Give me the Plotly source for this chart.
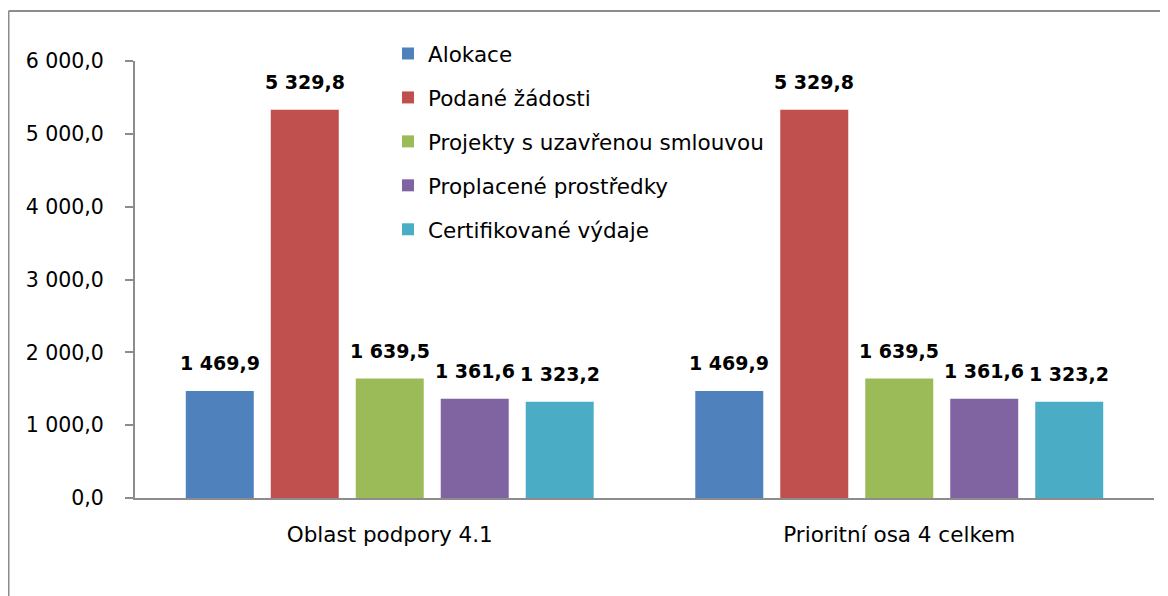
import plotly.graph_objects as go

categories = ["Oblast podpory 4.1", "Prioritní osa 4 celkem"]
series_names = ["Alokace", "Podané žádosti", "Projekty s uzavřenou smlouvou",
                "Proplacené prostředky", "Certifikované výdaje"]
alokace = [1469.9, 1469.9]
podane = [5329.8, 5329.8]
projekty = [1639.5, 1639.5]
proplacene = [1361.6, 1361.6]
certifikovane = [1323.2, 1323.2]
series_values = [alokace, podane, projekty, proplacene, certifikovane]
colors = ["#4F81BD", "#C0504D", "#9BBB59", "#8064A2", "#4BACC6"]
y_ticks = [0, 1000, 2000, 3000, 4000, 5000, 6000]

FONT = "DejaVu Sans"
# page body has an 8px margin, so the figure is 8px smaller than the window
W, H = 1160, 588
ML, MR, MT, MB = 127, 14, 53, 98
PW = W - ML - MR
PH = H - MT - MB


def fmt(v):
    s = f"{v:,.1f}"
    return s.replace(",", " ").replace(".", ",")


fig = go.Figure()
for i, (name, vals, c) in enumerate(zip(series_names, series_values, colors)):
    fig.add_trace(go.Bar(name=name, x=categories, y=vals, marker=dict(color=c, line=dict(width=0)),
                         legendgroup=name))

BARGAP = 0.166
slot = PW / len(categories) * (1 - BARGAP) / len(series_names)
annotations = []
for i, vals in enumerate(series_values):
    for cat, v in zip(categories, vals):
        annotations.append(dict(x=cat, y=v, xref="x", yref="y", text=fmt(v), showarrow=False,
                                xshift=(i - 2) * slot, yanchor="bottom", yshift=15,
                                font=dict(family=FONT, size=19, color="black", weight=700)))

# chart-area frame
fx0 = (0.5 - ML) / PW
fy_top = (H - MB - 3) / PH
fig.add_shape(type="line", xref="paper", yref="paper", x0=fx0, x1=fx0, y0=fy_top, y1=-MB / PH - 0.05,
              line=dict(color="#8c8c8c", width=2))
fig.add_shape(type="line", xref="paper", yref="paper", x0=fx0, x1=(W - ML + 5) / PW, y0=fy_top, y1=fy_top,
              line=dict(color="#8c8c8c", width=2))

fig.update_layout(
    width=W, height=H,
    margin=dict(l=ML, r=MR, t=MT, b=MB),
    paper_bgcolor="white", plot_bgcolor="white",
    barmode="group", bargap=BARGAP, bargroupgap=0.2,
    separators=", ",
    font=dict(family=FONT, size=20.5, color="black"),
    annotations=annotations,
    legend=dict(x=(380 - ML) / PW, y=(H - MB - 25) / PH, xanchor="left", yanchor="top",
                bgcolor="rgba(0,0,0,0)", font=dict(family=FONT, size=21.5, color="black"),
                tracegroupgap=13, itemwidth=30),
    showlegend=True,
)
fig.update_xaxes(showline=True, linecolor="#8c8c8c", linewidth=2, ticks="", showgrid=False,
                 tickfont=dict(family=FONT, size=21.5), ticklabelstandoff=16)
fig.update_yaxes(range=[0, 6000], tickvals=y_ticks, tickformat=",.1f", showline=True,
                 linecolor="#8c8c8c", linewidth=2, ticks="outside", ticklen=8, tickcolor="#8c8c8c",
                 tickwidth=2, showgrid=False, zeroline=False, tickfont=dict(family=FONT, size=20.5),
                 ticklabelstandoff=17)

fig.write_html("out.html")
